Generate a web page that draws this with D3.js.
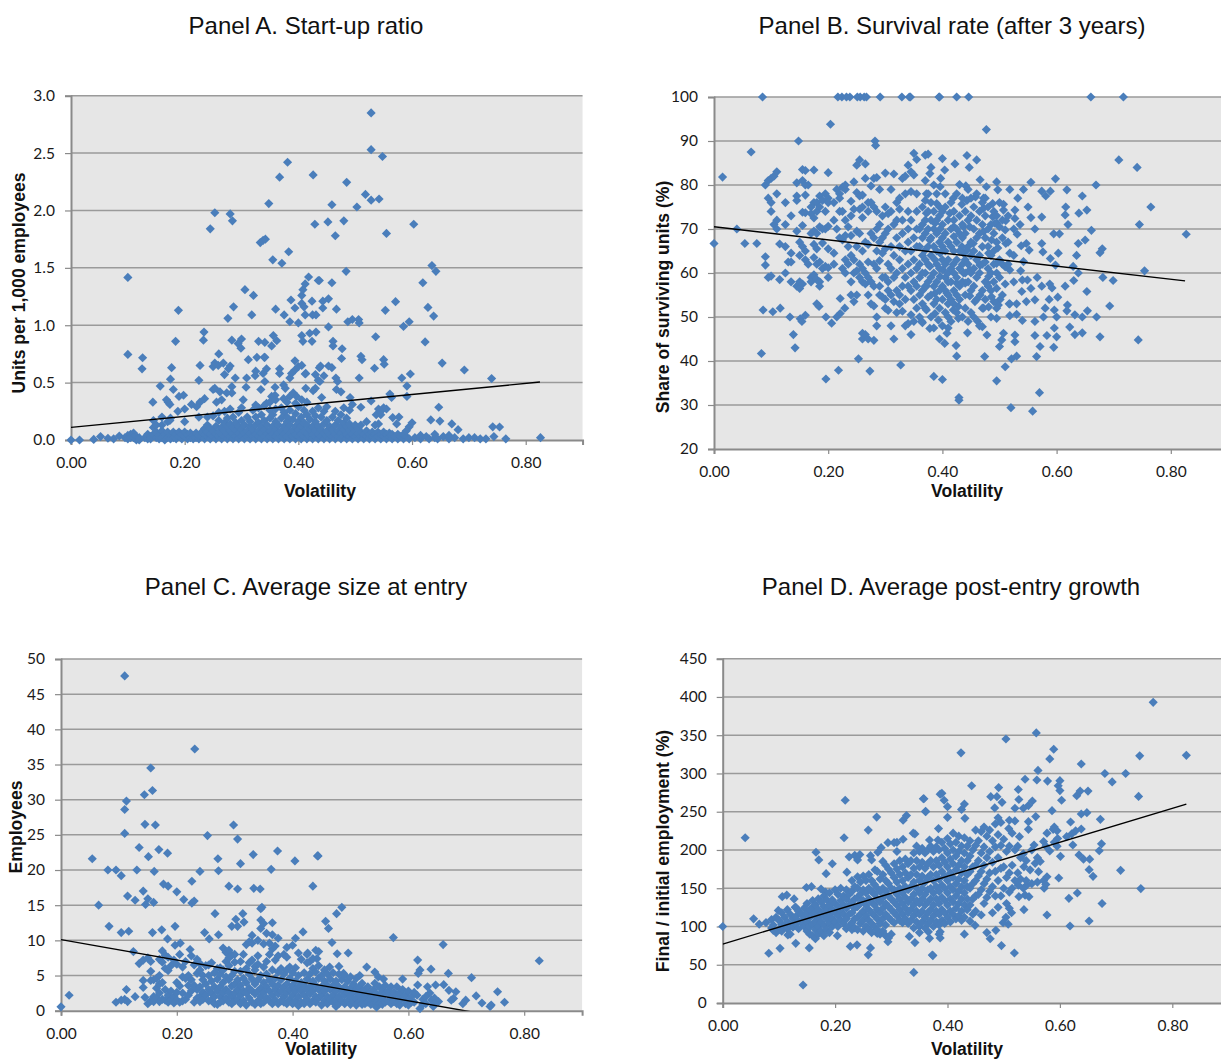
<!DOCTYPE html>
<html>
<head>
<meta charset="utf-8">
<script src="https://cdnjs.cloudflare.com/ajax/libs/d3/7.8.5/d3.min.js"></script>
<style>
  html, body { margin: 0; padding: 0; background: #fff; overflow: hidden; }
  svg { display: block; }
  .tick-label text { font-family: Lato, sans-serif; font-size: 15.5px; fill: #1a1a1a; }
  .panel-title { font-family: "Liberation Sans", Arial, sans-serif; font-size: 24px; fill: #111; text-anchor: middle; }
  .axis-title { font-family: "Liberation Sans", Arial, sans-serif; font-size: 17.6px; font-weight: bold; fill: #111; text-anchor: middle; }
</style>
</head>
<body>
<svg id="chart" width="1221" height="1059"></svg>
<script>
// every row is [volatility, value, value, ...]
const startupRows = [
  [0,0],[.015,0],[.04,.005],[.052,.03],[.065,.015],[.075,.01],[.085,.035],[.095,.02],[.1,.04,.01],[.105,.05,.02],[.11,.06,.02],[.115,.03,0],
  [.1,1.417,.746],[.126,.717],[.125,.62],[.189,1.13],[.184,.86],[.177,.63],[.175,.53],[.157,.47],[.144,.33],[.18,.44],[.19,.38],[.198,.39],[.188,.25],[.2,.27],[.171,.33],[.168,.35],[.174,.31],[.16,.2],[.145,.17],[.174,.17],[.2,.16],
  [.234,.94],[.233,.87],[.227,.65,.33],[.225,.52],[.25,.64,.44],[.253,.67,.45],[.259,.65],[.26,.75],[.268,.67],[.28,.645],[.277,.62],[.27,.57],[.289,.54],[.262,.42],[.283,.465,.41,.87],[.274,.41],[.235,.36],[.212,.31],[.221,.29],[.256,.33],[.265,.35],
  [.245,1.84],[.253,1.98],[.28,1.97],[.284,1.91],[.276,1.06],[.286,1.16],[.306,1.31],[.321,1.26],[.318,1.09],[.3,.88],[.294,.84],[.299,.8],[.312,.7],[.327,.72],[.34,.72],[.341,.72,.85,.51],[.33,.86],[.353,.82,.38],[.356,.91],[.362,.865],[.344,.62,.32],[.325,.6,.305],[.324,.56],[.338,.58],[.309,.54],[.308,.46],[.334,.44],[.303,.35],
  [.348,2.06],[.367,2.29,.62,.58],[.381,2.42],[.426,2.31,.43],[.429,1.88],[.383,1.64],[.371,1.54],[.355,1.57],[.333,1.72],[.338,1.74],[.342,1.75],[.36,1.14],[.375,1.09],[.385,1.03,.54,.38],[.387,1.22],[.394,1.15,.69,.61],[.4,1.02,.64],[.406,1.19,1.26,.91,.65,.35],[.41,1.16],[.412,1.09,1.36,.575],[.408,1.31,.86],[.418,1.42],[.435,1.39,.52],[.424,1.21,.86],[.425,1.09],[.431,1.09,.94],[.42,.93],[.388,.58],[.413,.58,.45],[.43,.57,.45],[.437,.63],[.374,.48,.36],[.377,.45],[.359,.46,.39],[.391,.41],[.397,.38],
  [.528,2.85,2.53,2.09,.34],[.548,2.47],[.485,2.245],[.518,2.14],[.542,2.1],[.459,2.05,1.37,.63],[.503,2.03],[.48,1.91],[.452,1.9],[.465,1.78],[.555,1.8,.27],[.603,1.88],[.635,1.52],[.642,1.47],[.484,1.47],[.619,1.37],[.437,1.39],[.453,1.23,.985,.645],[.443,1.21,1.15],[.467,1.14,.44],[.571,1.205],[.553,1.13],[.628,1.155],[.638,1.08],[.487,1.03],[.495,1.05,.31],[.506,1.05],[.507,1.02,.54],[.595,1.03,.115],[.585,.99],[.536,.9],[.623,.855],[.461,.86,.82],[.477,.795],[.476,.71],[.51,.73,.285],[.512,.7],[.55,.7,.28],[.551,.66],[.534,.625],[.653,.67],[.692,.61],[.74,.535],[.439,.645],[.466,.54],[.469,.51],[.582,.54],[.597,.575],[.591,.47,.38],[.445,.56],[.438,.51],[.475,.42],[.561,.4],[.564,.37],[.491,.37],[.441,.37],[.647,.285],[.541,.27,.14],[.537,.22],[.566,.195],[.577,.2],[.573,.14],[.52,.16],[.6,.15],[.633,.175],[.649,.165],[.67,.14],[.681,.09],[.742,.115],[.754,.113],[.744,.03],[.765,.01],[.826,.02],
  [.12,.02,0],[.13,.02],[.135,.01,.05],[.14,.03,.01],[.145,.05,.11],[.15,.02,.07,.13],[.155,.04,.01],[.16,.02,.08,.13],[.165,.05,0],[.17,.02,.07,.16],[.175,.04,.01,.19],[.18,.02,.07],[.185,.05,.01],[.19,.03,.07],[.195,.01,.05],[.2,.03,.07],[.205,.01,.05],[.21,.02,.06],[.215,.04,.01],[.22,.02,.06],[.225,.01,.04,.2],[.23,.03,.07],[.235,.01,.05,.1],[.24,.03,.07,.13,.2],[.245,.01,.05,.1],[.25,.03,.08,.21],[.255,.01,.05,.12],[.26,.03,.07,.17,.24],[.265,.01,.05,.11],[.27,.03,.08,.15,.25],[.275,.01,.05,.12,.19],
  [.28,.03,.08,.14,.27],[.285,.01,.05,.11,.2],[.29,.03,.08,.15],[.295,.01,.06,.12,.24],[.3,.03,.09,.17,.28],[.305,.01,.06,.13],[.31,.03,.08,.2],[.315,.01,.05,.12,.16],[.32,.03,.09,.26],[.325,.01,.05,.13,.2],[.33,.03,.08,.15,.28],[.335,.01,.06,.12,.22],[.34,.03,.09,.17,.3],[.345,.01,.05,.13],[.35,.03,.08,.19,.26,.33],[.355,.01,.05,.12,.22],[.36,.03,.09,.16,.27,.35],[.365,.01,.06,.13],[.37,.03,.08,.19,.28],[.375,.01,.05,.12,.24],[.38,.03,.09,.16,.2,.33],[.385,.01,.06,.13,.26],[.39,.03,.08,.18],[.395,.01,.05,.12,.23,.32],[.4,.03,.09,.16,.29],[.405,.01,.05,.12,.2],[.41,.03,.08,.15,.26],[.415,.01,.06,.13,.22,.33],[.42,.03,.09,.18],[.425,.01,.05,.12,.25],[.43,.03,.08,.16,.21],[.435,.01,.05,.12,.28],
  [.44,.03,.09,.2],[.445,.01,.06,.14,.25],[.45,.03,.08,.17,.29],[.455,.01,.05,.12],[.46,.03,.09,.2],[.465,.01,.05,.13,.25],[.47,.03,.08,.17],[.475,.01,.06,.12,.22],[.48,.03,.09,.15,.28],[.485,.01,.05,.12,.19],[.49,.03,.08,.14,.26],[.495,.01,.05,.1],[.5,.03,.08,.13],[.505,.01,.05,.1],[.51,.03,.07,.13],[.515,.01,.05],[.52,.03,.08],[.525,.01,.05],[.53,.03,.07],[.535,.01,.05,.13],[.54,.03,.07],[.545,.01,.05,.22,.25],[.55,.03,.07],[.555,.01,.05],[.56,.03,.06],[.565,.01,.05],[.57,.03],[.575,.01,.05],[.58,.03],[.585,.01,.05],[.59,.03,.08],[.595,.01],[.605,.02],[.615,.01,.04],[.625,.03],[.63,.01],[.64,.02,.05],[.645,.01],[.655,.03],[.665,.01,.04],[.675,.02],[.69,.01],[.7,.02],[.71,.02],[.72,.01],[.73,.01]
];
const survivalRows = [
  [.085,100],[.217,100],[.224,100],[.232,100],[.238,100],[.251,100],[.256,100],[.263,100],[.267,100],[.291,100],[.329,100],[.342,100],[.344,100],[.394,100],[.395,100],[.425,100],[.446,100],[.66,100],[.717,100],
  [.204,93.8],[.148,90],[.282,90],[.283,89],[.065,87.5],[.015,81.8],[.04,70],[0,66.7],[.054,66.7],[.075,66.7],[.083,41.7],[.086,51.6],[.103,51.2],[.116,52],[.133,50],[.139,46],[.142,43],[.151,49.6],[.16,50.4],[.154,49],[.196,50,35.9],[.206,48.6],[.215,50],[.221,50.8,54.2],[.229,52],[.18,53],[.184,52.4],[.218,37.9],[.253,40.5],[.273,37.7],[.327,39.1],[.385,36.5],
  [.477,92.6],[.709,85.7],[.741,84],[.765,75],[.745,71],[.827,68.8],[.754,60.5],[.681,59],[.699,58.3],[.693,52.5],[.67,50],[.743,44.8],[.676,45.5,64.6],[.669,80],[.598,81.4],[.555,80.6,72.6,56.5],[.495,80.7,35.5,49.7,56.5,62.2,71.3],[.466,81.2,55,61.8],[.618,78.9,51.4],[.37,86.8,65.2],[.4,86,35.8],[.443,86.7,76.5,65.2],[.46,85.7],[.447,84],[.422,84.8],[.404,83.4,44],[.378,82.6,61.5,47.4,67.5],[.397,81.5],[.43,80.1],[.441,79.8],[.477,79.6],[.497,78.9,65.7],[.518,79,64.5,53,60.7,50.3],[.542,79,62.6],[.574,78.6,72.7,57,66.7],[.589,78.6,63.3],[.581,77.5],[.532,77],[.55,75],[.616,75],[.615,73.2,57],[.62,71],[.645,77.5,50,46.4],[.653,74.3,55.8],[.639,73.6],[.595,68.9,43.1],[.605,68.9],[.661,69.7],[.65,67.5],[.638,66.7,60],[.68,65.5],[.635,64],[.603,64.5],[.598,61.8],[.629,61.5],[.63,58.3],[.602,54.5],[.587,54],[.588,57.5],[.592,56.6],[.562,53.9,49,45.8,70],[.566,59],[.549,58.4],[.619,52.7],[.654,51.4],[.632,50.5,46],[.596,51.6,47.5],[.6,50,45.5],[.577,50],[.58,52],[.623,47.7],[.583,45.8],[.571,43.3],[.565,41],[.53,41.1,53,50.6],[.521,40.5],[.51,38.7,57.5,61.4,69.8],[.57,32.8],[.558,28.6],[.52,29.4],[.429,31.7,31.1],[.474,41],[.425,41.1,57.7],[.424,43.5],[.5,43.3],[.504,44.8],[.527,44.4,45.9,72.4,74.3],[.507,46.3,74.3,75.6],[.478,45.9,57.7],[.444,46.4],[.408,46.3,55.4],[.395,45],[.462,49],[.47,47.8],[.54,49.2,58.4],[.517,53],[.547,53.5,66.7],[.501,54],[.472,52,69.4,74.7,77],[.481,52.3,59.2,64.5],[.498,52.7],[.457,53.5],[.448,54.8,60.7,70.5],[.486,54.6,67.5],[.539,55.8],[.537,60.5],[.552,65.2],[.538,66.2],[.576,64.8],[.531,68.8],[.511,66.7,71.9],[.492,71.3],[.536,71],[.488,75.8,72.8],[.458,77.3],[.419,77,62,51.6],[.437,70.5,60,64.5],[.42,68.3,70.5],[.454,66.7],[.434,66,75.6],[.401,60.7],[.466,61.8],[.387,55.4,50.8,71.3,63],[.396,59.2,70,79.6,64.5],[.44,57.7],[.372,57,51.6,73.6,78],[.41,53,50],[.428,52.4,49.7],[.393,49.3],[.364,49],[.39,75.8],[.413,73.6],
  [.09,80,63.7,61.8],[.095,81,77,59],[.1,81.5,76,59.3,74],[.105,82,71],[.11,83,78,72,70],[.115,66.6,58.5],[.125,76,71,60,66],[.13,62.5],[.135,73,62.5,64.5,58],[.145,80.5,77.5,76.5,69.5,57],[.15,64,67,58,56.5],[.155,83.5,81,73.8,70.8,66,57.5],[.16,83.3,80,77.7,73.7,65,63],[.165,80,62],[.17,75,73.5,69,59,58],[.175,83.4,76,72.5,69.5,66.5,63.5,59.6],[.18,76,74,69,65.5,62,58.5],[.185,77.5,75,70.5,62.5,58,57],[.19,76.5,70,66.8,61],[.195,78,74,70,61.5],[.2,82.8,77,76,70.6,65.5,61.2,59],[.21,76,72,64.5,62],[.215,79,70],[.22,78,77,74,68],[.225,79.5,74,67.5,61],[.23,79,80,72,68.5,63,60],[.235,70.5,66,62],[.24,76.3,73,68.5,64,58,55],[.245,80.7,74.5,63,60,53.5],[.25,84.5,78.3,69.5,66,60.5,55],[.255,85.7,77.5,74.5,69,62,59],[.26,77.7,75,72.6,65,61,58,46.3,45],[.265,84.8,81.5,67,60,57.5,46],[.27,76,74,66.5,62.5,59,55,45],[.275,79.8,76,69,58,53],[.28,81.5,75,68,62,57,52.5,44.7],[.285,81.7,74,70,65,61,50,48],
  [.29,79,71,67,62.8,57,55],[.295,73,68,64.5,59,54.5],[.3,82.7,75,69,65.5,59,54,52],[.305,73.5,70,62,58,56,51.5],[.31,79,74,66,61,55,48],[.315,82.5,71,64,59,53.5,45],[.32,76,72,68,60,56,51],[.325,77,74.5,66,63,55,53],[.33,81.5,72,69,61,57,51.3],[.335,82,78,65,59,54,48],[.34,84.5,74,70,67,62,57,48.5],[.345,83,78.5,72,65,60,56,50.5,46],[.35,87.2,82.3,68,63,58,54,49],[.355,85.8,78,74,70,66,61,57,52],[.36,70,66,62,59,55,50],[.365,75,71,68,64,60,56,53,48.7],[.37,81,76.5,72,69,63,60,57,52],[.375,87,78,74,70,66,62,58,54.5],[.38,84,76,72,68,64,59,55,50],[.385,80,74,70,66,60,57,53,47.5],[.39,78,72,69,65,62,58,54],[.395,75,73,67,61,56,52],[.4,74,71,68,66,63,57,54,48],[.405,78,75,69,65,62,59,56,51],[.41,72,67,63,60,58,55,47.5],[.415,76,70,66,61,58,54,49],[.42,74,72,65,60,56,53],[.425,78,70,67,63,59,55,51],[.43,73,69,65,61,57,54],[.435,77,71,68,62,58,50],[.44,74,69,63,60,55,52],[.445,79,72,66,62,58,49],[.45,77,73,67,64,60,56,51],[.455,75,70,65,61,57,50],[.46,78,72,68,63,59,54],[.465,74,69,64,60,48],[.47,76,71,66,62,56,52],[.475,77,73,68,62.5,58,54],[.48,75,70,66,61,57],[.485,71,64,60,56,50],[.49,74,69,65,62,58,53.5],[.495,73,67,60,52],[.5,76,70.5,63,59],[.505,72,68,62,55],[.515,73,67,62],[.525,70,64,58]
];
const sizeRows = [
  [0,.55],[.014,2.2],[.054,21.6],[.065,15],[.081,20],[.095,20,1.2],[.083,12],[.104,19.2,11.1,1.5],[.11,47.6,28.6,25.2,1.6],[.113,29.8,3],[.115,16.3,1.3],[.117,11.3],[.131,20],[.128,15.7,2],[.135,23.2,6.7],[.145,26.5,1.9],[.144,30.7],[.155,34.5],[.158,31.3,11.1],[.163,26.4],[.151,21.9],[.161,19.8],[.169,22.9],[.184,22.4,10.2],[.142,17,7.2,3.3,4.3],[.15,15.9,7.5,1],[.146,15.1],[.16,15.4],[.174,11.5],[.177,18],[.185,17.7],[.2,16.9],[.212,15.8],[.226,15.3,18.4],[.23,15.6],[.24,19.8],[.231,37.2],[.253,24.9],[.271,21.6],[.272,19.9,10.8],[.298,26.4],[.305,24.4,17.3,12],[.31,20.9],[.332,22.2],[.374,22.7],[.363,20.1],[.404,21.3],[.443,22],[.435,17.7],[.29,17.7],[.333,17.4],[.344,17.3],[.266,13.8],[.314,13.8],[.302,13],[.295,12],[.316,12.6],[.347,14.7],[.345,14.5],[.197,12,9.3],[.248,11.1],[.256,10.2],[.125,8.4],[.175,8.5],[.206,9.6],[.223,8.7],
  [.444,22],[.485,14.7],[.476,13.8],[.457,12.7],[.462,11.7],[.418,11.2],[.468,9.7],[.574,10.4],[.66,9.4],[.826,7.1],[.496,8.2],[.477,8.1],[.426,8.2],[.445,8.4],[.442,7.4],[.43,7],[.616,7.2,3.65],[.62,5.8,.3],[.617,5.3],[.639,5.9],[.669,5.3],[.709,4.7],[.754,2.7],[.766,1.2],[.741,.6],[.743,.8],[.727,1.1],[.717,2.1],[.699,1.5],[.694,1],[.682,2.7],[.67,2.9],[.678,1.75],[.674,1.5],[.661,3.7],[.647,3.65],[.633,3.4],[.615,2.2],[.637,2.5],[.64,1.5],[.652,1.3],[.643,.6],[.528,6.2],[.542,5.5,3.9],[.548,4.8],[.557,4.5],[.59,4.5],[.516,5],[.488,5.3],[.48,6.3],[.464,6.2],
  [.155,7,5.6,1.4,4.3],[.16,4.4,2,1.3],[.165,4.6,3.2,1.8],[.17,5,3.8,2.5,1.3,7.3],[.175,4,1.6,6.9],[.18,6,3,1.5,7.9],[.185,5.7,2.2,1.2,7.6],[.19,2.8,1.5,6.4],[.195,2,1.1,7.2],[.2,4,2.6,1.5,6.6],[.205,3.5,1.2,8],[.21,6.2,4.8,2.5,1.4],[.215,4.6,1.6,7],[.22,5,3.6,2.2],[.225,4.4,2.8,7.8],[.23,6.5,3.6,1.2],[.235,5.3,3,1.8,7.3],[.24,5.8,3.4,2,1.3,6.7],[.245,5,2.6,1.6,4.4],[.25,6.4,3.8,2.2],[.255,5,3,1.4,6.5],[.26,4.2,2.5,1.5,6.8],[.265,5.4,3.4,2,1],[.27,6,4.5,2.8,.9],[.275,5.2,3.4,2,1.2,6.1],[.28,5.8,4,2.6,1.4,8.9],[.285,4.8,3,1.8,8.3,7],[.29,6.4,4.4,2.6,1.2,8.6,7.5],[.295,5,3.5,2,1,7.9],[.3,5.6,3.8,2.5,1.4,8,6.9],[.305,4.4,3,1.6],[.31,5.6,3.6,2.2,1,7],[.315,4.6,2.8,1.4,8],[.32,6,4,2.5,.8,9.4],[.325,5.2,3.2,1.8,6.8,9.8],[.33,4.5,2.8,1.2,7.2,10.7,9.6],[.335,5.8,3.8,2.4,.9,6.3],[.34,6.6,4.4,2.8,1.4,7.8,10],[.345,5,3.2,2,1,12.9,11.7],[.35,6.2,4,2.6,1.2,9.5,12.4],[.355,5.2,3.4,1.8,7,11],[.36,4.4,2.8,1.4,8,9.6],[.365,5.8,3.8,2.2,1,8.8,10.8,12.5],[.37,4.6,3,1.5,7.2,9.2],[.375,5.5,3.6,2.4,1,7.8,10.3],[.38,4.4,2.8,1.4,6],[.385,5.2,3.4,2,1.2,8],[.39,5.8,3.8,2.6,1,7.6,9],[.395,4.6,3,1.6,6.2],[.4,5.4,3.6,2.2,1,9.3],[.405,4.2,2.8,1.4,6.1,10.3],[.41,5,3.4,2,.7,8.2],[.415,4,2.8,1.2,7.3],[.42,5.4,3.6,2.2,1],[.425,4.5,3,1.6,6.8,8],[.43,5.2,3.4,2.4,1],[.435,4.2,2.8,1.4,6,7.4],[.44,5.5,3.6,2,1.2,8.6],[.445,4.6,3,1.8,6.4],[.45,5,3.4,2.2,.8],[.455,4.2,2.8,1.4,5.8],[.46,5.2,3.6,2,1],[.465,4.5,3,1.6],[.47,5.4,3.6,2.2,1.2],[.475,4.2,2.8,1.4,.6],[.48,5.2,3.4,2,1],[.485,4.4,2.8,1.4],[.49,5,3.4,2.2,1],[.495,4.2,2.6,1.4],[.5,4.8,3.2,2,.9],[.505,3.8,2.6,1.3],[.51,4.6,3,1.8,.8],[.515,3.4,2.2,1.2],[.52,3.9,2.8,1.6,.9],[.525,3,2,1],[.53,3.4,2.4,1.2],[.535,2.6,1.6,.9],[.54,3,2,1],[.545,2.4,1.2,.5],[.55,3.4,2,1],[.555,2.8,1.6,.9],[.56,3.6,2.4,1.2],[.565,2.8,1.4],[.57,3.4,2,1],[.575,2.6,1.3],[.58,3.4,2.2,1],[.585,2.6,1.4,.8],[.59,3,1.8],[.595,2.2,1],[.6,2.8,1.4,.8],[.605,2,1.2],[.61,2.6,1.2],[.625,1.6,.9],[.63,2,1],[.645,1.8,1]
];
const growthRows = [
  [0,100],[.04,216],[.055,110],[.065,103],[.082,65],[.102,71.5],[.077,105],[.087,109,98],[.099,121],[.106,139],[.114,141],[.127,136],[.129,125],[.143,23.5],[.13,78],[.116,89],[.154,72],[.149,151],[.158,152],[.166,197],[.171,187],[.184,169],[.195,182],[.175,149],[.183,145],[.204,88],[.216,216],[.218,265],[.221,171],[.225,191],[.235,193],[.244,194],[.24,187],[.263,192.6,72],[.265,187],[.259,226,63],[.274,243],[.276,197],[.282,203],[.294,209.6,80],[.305,209.6],[.31,210,198],[.321,239,214],[.327,245],[.339,222],[.342,221,79],[.358,267],[.361,250.5],[.383,213],[.368,213,84.5],[.384,228],[.387,273,93,85],[.271,174],[.227,74],[.239,76],[.275,91],[.34,40],[.374,62],[.332,87],
  [.766,393],[.558,353],[.504,345,112],[.424,327],[.589,331.6],[.582,319,198.7],[.638,312.4,247,227.4],[.742,323],[.825,323.7],[.561,304],[.68,300],[.717,300],[.693,289],[.538,292.4,141],[.559,291.5],[.578,290],[.6,290.6,277.6],[.597,284],[.443,284],[.491,281.5],[.526,279,154],[.39,274],[.357,267],[.394,265],[.4,256.6,242.7],[.361,250],[.43,260,90],[.425,253],[.431,241.4],[.477,269.7],[.488,269.7],[.497,262.3],[.484,255],[.49,242],[.52,254.5,238],[.527,266,139],[.535,254.5],[.544,258,237,227],[.551,264],[.557,243.6],[.586,251.4],[.603,265],[.63,271],[.636,277],[.65,277],[.648,248.8],[.619,236.6],[.672,240],[.74,270],[.628,225],[.621,221],[.612,217.4],[.674,208],[.67,199],[.623,206.5],[.708,173.4],[.744,149.5],[.659,165.6],[.652,174.3,107.2],[.653,188],[.642,188],[.634,193.5],[.601,191.7],[.598,163.4],[.631,143.8],[.616,136.8],[.675,130],[.577,115,165,222],[.618,100.6],[.519,65.4],[.496,75],[.373,62.7],[.486,95],[.476,84],[.47,92],[.536,122,178],[.545,139],[.51,123.7,238.8],[.514,118],[.508,103],[.499,105],[.449,101.5],[.44,107],[.366,93],[.572,150],[.571,160,211],[.562,171.7],[.556,182.5],[.547,174],[.541,154],[.554,206.5],[.596,215],[.528,217.4],[.509,228],[.588,227],
  [.09,102,95],[.095,112,92],[.1,108,96],[.105,118,103,94],[.11,112,100],[.115,122,106,97],[.12,116,102,90],[.125,110,99],[.13,125,113,104],[.135,120,107,97],[.14,116,105],[.145,124,111,100],[.15,130,118,106,94],[.155,122,112,100,90],[.16,134,125,115,103,88],[.165,128,118,107,96,84],[.17,136,122,112,100,90],[.175,132,118,106,94],[.18,140,126,114,102,88],[.185,135,122,110,96],[.19,144,128,116,104,92],[.195,135,122,110,100],[.2,148,130,118,106],[.205,142,126,114,100],[.21,150,134,120,108],[.215,140,128,116,104],[.22,148,136,124,110,97],[.225,142,128,116,100],[.23,160,146,132,118,105,96],[.235,152,136,124,110,98],[.24,165,150,138,126,112,96],[.245,158,142,130,116,104],[.25,166,148,134,120,108,94],[.255,160,144,128,114,100],[.26,168,150,136,122,108,96],[.265,160,146,132,118,104,92],[.27,155,142,128,114,100],[.275,172,150,136,122,110,96],[.28,162,146,132,118,104,90],[.285,185,168,150,138,124,110,94],[.29,180,160,146,130,116,102,88],[.295,175,156,140,126,112,85],[.3,170,150,136,122,108,90],[.305,182,164,148,132,118,105],[.31,175,158,142,128,114],[.315,186,168,150,136,122,108],[.32,178,160,144,130,116,105],[.325,188,170,152,138,124,110],[.33,182,164,148,132,118,104],[.335,186,168,152,136,122,108],[.34,196,176,158,142,128,114,98],[.345,205,186,168,150,134,120,106],[.35,198,178,160,144,130,116,100,92],[.355,202,184,166,150,136,120,106],[.36,196,176,158,142,128,112,98],[.365,200,182,164,148,132,118,104],[.37,205,186,168,150,136,122,108],[.375,198,178,160,144,128,114,100],[.38,204,186,168,152,136,120,106],[.385,200,180,162,146,130,116,102,90],[.39,210,190,172,154,138,122,108],[.395,202,184,166,150,134,118,104],[.4,215,196,178,160,144,128,112],[.405,208,188,170,152,136,120,106],[.41,222,200,182,164,148,132,116],[.415,210,192,174,156,140,124,110],[.42,218,198,180,162,146,130,114],[.425,205,186,170,152,136,120,108],[.43,216,196,178,160,144,128,112],[.435,205,186,168,152,136,122],[.44,212,192,172,150,128],[.445,200,178,156,136,116],[.45,226,206,180,160,140,120],[.455,212,186,166,142],[.46,224,196,172,148,115],[.465,230,204,180,156,130],[.47,218,190,162,138],[.475,226,198,170,146],[.48,212,184,152,118],[.485,234,204,172,140],[.49,220,190,160,125],[.495,236,206,176,140],[.5,214,178,150],[.505,198,164,130],[.51,205,170,145],[.515,222,180,150],[.52,200,160],[.525,205,170],[.53,190,162],[.535,195,150],[.54,186,160],[.55,200,156],[.56,190,158],[.565,185],[.575,205,155],[.59,210,230],[.595,225,205]
];

const startupTicks = [0, .5, 1, 1.5, 2, 2.5, 3];
const survivalTicks = [20, 30, 40, 50, 60, 70, 80, 90, 100];
const sizeTicks = [0, 5, 10, 15, 20, 25, 30, 35, 40, 45, 50];
const growthTicks = [0, 50, 100, 150, 200, 250, 300, 350, 400, 450];
const volatilityTicks = [0, .2, .4, .6, .8];

const startupTrend = [[0, .11], [.825, .505]];
const survivalTrend = [[0, 70.5], [.825, 58.2]];
const sizeTrend = [[0, 10.1], [.825, -1.85]];
const growthTrend = [[0, 77], [.825, 260]];

const blue = '#4a7ebb';
const gridGrey = '#9a9a9a';
const axisGrey = '#8a8a8a';
const svg = d3.select('#chart');

function drawPanel(p) {
  const x = d3.scaleLinear().domain([0, .9]).range([p.left, p.left + p.pxPerUnit * .9]);
  const y = d3.scaleLinear().domain(p.yDomain).range([p.bottom, p.top]);
  const g = svg.append('g');

  g.append('rect')
    .attr('x', x(0)).attr('y', p.top)
    .attr('width', x(.9) - x(0)).attr('height', p.bottom - p.top)
    .attr('fill', '#e6e6e6');

  g.selectAll('.grid')
    .data(p.yTicks.filter(d => d !== p.yDomain[0]))
    .join('line')
    .attr('x1', x(0)).attr('x2', x(.9))
    .attr('y1', d => y(d)).attr('y2', d => y(d))
    .attr('stroke', gridGrey).attr('stroke-width', 1.5);

  const yAxis = g.append('g')
    .attr('class', 'tick-label')
    .attr('transform', `translate(${p.left},0)`)
    .call(d3.axisLeft(y).tickValues(p.yTicks).tickFormat(d3.format(p.yFormat)).tickSize(6).tickPadding(10));
  const xAxis = g.append('g')
    .attr('class', 'tick-label')
    .attr('transform', `translate(0,${p.bottom})`)
    .call(d3.axisBottom(x).tickValues(volatilityTicks).tickFormat(d3.format('.2f')).tickSize(5).tickPadding(12));
  [yAxis, xAxis].forEach(a => {
    a.selectAll('.domain').attr('stroke', axisGrey).attr('stroke-width', 2);
    a.selectAll('line').attr('stroke', axisGrey).attr('stroke-width', 1.2);
  });

  const points = p.rows.flatMap(r => r.slice(1).map(v => [r[0], v]));
  const diamond = d3.symbol().type(d3.symbolSquare).size(42);
  g.selectAll('.point')
    .data(points)
    .join('path')
    .attr('d', diamond)
    .attr('transform', d => `translate(${x(d[0])},${y(d[1])}) rotate(45)`)
    .attr('fill', blue);

  // trend line stays inside the plot (panel C runs below zero)
  const clipId = 'clip' + p.name;
  g.append('clipPath').attr('id', clipId).append('rect')
    .attr('x', x(0)).attr('y', p.top)
    .attr('width', x(.9) - x(0)).attr('height', p.bottom - p.top);
  g.append('path')
    .attr('d', d3.line().x(d => x(d[0])).y(d => y(d[1]))(p.trend))
    .attr('clip-path', `url(#${clipId})`)
    .attr('fill', 'none').attr('stroke', '#000').attr('stroke-width', 1.4);

  svg.append('text').attr('class', 'panel-title')
    .attr('x', p.titleX).attr('y', p.titleY).text(p.title);
  svg.append('text').attr('class', 'axis-title')
    .attr('x', p.xLabelX).attr('y', p.xLabelY).text('Volatility');
  svg.append('text').attr('class', 'axis-title')
    .attr('transform', `translate(${p.yLabelX},${p.yLabelY}) rotate(-90)`).text(p.yLabel);
}

drawPanel({ name: 'A', rows: startupRows, trend: startupTrend, yTicks: startupTicks, yDomain: [0, 3], yFormat: '.1f',
  left: 71, pxPerUnit: 568.4, top: 95.7, bottom: 440,
  title: 'Panel A. Start-up ratio', titleX: 306, titleY: 34,
  yLabel: 'Units per 1,000 employees', yLabelX: 25, yLabelY: 283, xLabelX: 320, xLabelY: 497 });
drawPanel({ name: 'B', rows: survivalRows, trend: survivalTrend, yTicks: survivalTicks, yDomain: [20, 100], yFormat: 'd',
  left: 714, pxPerUnit: 571, top: 97, bottom: 449,
  title: 'Panel B. Survival rate (after 3 years)', titleX: 952, titleY: 34,
  yLabel: 'Share of surviving units (%)', yLabelX: 669, yLabelY: 297, xLabelX: 967, xLabelY: 497 });
drawPanel({ name: 'C', rows: sizeRows, trend: sizeTrend, yTicks: sizeTicks, yDomain: [0, 50], yFormat: 'd',
  left: 61, pxPerUnit: 579, top: 659, bottom: 1010.7,
  title: 'Panel C. Average size at entry', titleX: 306, titleY: 595,
  yLabel: 'Employees', yLabelX: 22, yLabelY: 827, xLabelX: 321, xLabelY: 1055 });
drawPanel({ name: 'D', rows: growthRows, trend: growthTrend, yTicks: growthTicks, yDomain: [0, 450], yFormat: 'd',
  left: 722.7, pxPerUnit: 562, top: 658.7, bottom: 1003,
  title: 'Panel D. Average post-entry growth', titleX: 951, titleY: 595,
  yLabel: 'Final / initial employment (%)', yLabelX: 669, yLabelY: 851, xLabelX: 967, xLabelY: 1055 });
</script>
</body>
</html>
